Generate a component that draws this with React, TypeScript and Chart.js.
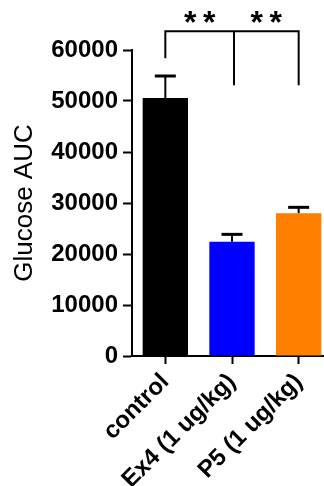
import React, { useEffect, useRef } from "react";
import { Chart, registerables } from "chart.js";

Chart.register(...registerables);

// Group labels, means and upper SEM for glucose area under the curve
const categories = ["control", "Ex4 (1 ug/kg)", "P5 (1 ug/kg)"];
const aucMeans = [50600, 22400, 28000];
const aucErrors = [4300, 1450, 1150];
const barColors = ["#000000", "#0000ff", "#ff8000"];
const yTicks = [0, 10000, 20000, 30000, 40000, 50000, 60000];

// Significance bracket levels (in AUC units) and marker text
const bracketTop = 63700;
const bracketLeftEnd = 58600;
const bracketRightEnd = 53300;
const starBaseline = 63300;
const significance = ["**", "**"];

const FONT = "'Liberation Sans', Arial, sans-serif";

const errorBarPlugin = {
  id: "errorBars",
  afterDatasetsDraw(chart: any) {
    const ctx = chart.ctx;
    const y = chart.scales.y;
    const meta = chart.getDatasetMeta(0);
    ctx.save();
    ctx.strokeStyle = "#000";
    meta.data.forEach((bar: any, i: number) => {
      const top = y.getPixelForValue(aucMeans[i] + aucErrors[i]);
      ctx.lineWidth = 2;
      ctx.beginPath();
      ctx.moveTo(bar.x, bar.y);
      ctx.lineTo(bar.x, top);
      ctx.stroke();
      ctx.lineWidth = 3;
      ctx.beginPath();
      ctx.moveTo(bar.x - 10.5, top);
      ctx.lineTo(bar.x + 10.5, top);
      ctx.stroke();
    });
    ctx.restore();
  },
};

const bracketPlugin = {
  id: "sigBracket",
  afterDraw(chart: any) {
    const ctx = chart.ctx;
    const x = chart.scales.x;
    const y = chart.scales.y;
    const x0 = x.getPixelForValue(0);
    const x1 = x.getPixelForValue(1) + 2;
    const x2 = x.getPixelForValue(2);
    const yt = y.getPixelForValue(bracketTop);
    ctx.save();
    ctx.strokeStyle = "#000";
    ctx.lineWidth = 2;
    ctx.lineCap = "square";
    ctx.beginPath();
    ctx.moveTo(x0, y.getPixelForValue(bracketLeftEnd));
    ctx.lineTo(x0, yt);
    ctx.lineTo(x2, yt);
    ctx.lineTo(x2, y.getPixelForValue(bracketRightEnd));
    ctx.moveTo(x1, yt);
    ctx.lineTo(x1, y.getPixelForValue(bracketRightEnd));
    ctx.stroke();
    ctx.fillStyle = "#000";
    ctx.font = `bold 32px ${FONT}`;
    ctx.textAlign = "center";
    ctx.textBaseline = "alphabetic";
    const sy = y.getPixelForValue(starBaseline);
    const centers = [(x0 + x1) / 2, (x1 + x2) / 2];
    centers.forEach((cx, k) => {
      const stars = significance[k].split("");
      stars.forEach((s, j) => {
        const off = (j - (stars.length - 1) / 2) * 19;
        ctx.fillText(s, cx + off, sy);
      });
    });
    ctx.restore();
  },
};

export default function App() {
  const canvasRef = useRef<HTMLCanvasElement>(null);

  useEffect(() => {
    if (!canvasRef.current) return;
    const chart = new Chart(canvasRef.current, {
      type: "bar",
      data: {
        labels: categories,
        datasets: [
          {
            data: aucMeans,
            backgroundColor: barColors,
            borderWidth: 0,
            barPercentage: 0.68,
            categoryPercentage: 1,
          },
        ],
      },
      options: {
        responsive: false,
        animation: false,
        devicePixelRatio: 1,
        layout: { padding: { top: 50, right: 8, left: 0, bottom: 0 } },
        plugins: {
          legend: { display: false },
          tooltip: { enabled: false },
        },
        scales: {
          x: {
            offset: true,
            grid: {
              display: true,
              drawOnChartArea: false,
              drawTicks: true,
              tickLength: 8,
              tickColor: "#000",
              tickWidth: 2,
              offset: false,
            },
            border: { display: true, color: "#000", width: 2 },
            ticks: {
              color: "#000",
              font: { family: FONT, size: 24, weight: "bold" },
              minRotation: 45,
              maxRotation: 45,
              padding: 4,
            },
            afterFit(scale: any) {
              scale.height = 130;
            },
          },
          y: {
            min: 0,
            max: 60000,
            afterBuildTicks(scale: any) {
              scale.ticks = yTicks.map((v) => ({ value: v }));
            },
            grid: {
              display: true,
              drawOnChartArea: false,
              drawTicks: true,
              tickLength: 9,
              tickColor: "#000",
              tickWidth: 2,
            },
            border: { display: true, color: "#000", width: 2 },
            ticks: {
              color: "#000",
              font: { family: FONT, size: 24, weight: "bold" },
              padding: 5,
              callback: (v: any) => String(v),
            },
            title: {
              display: true,
              text: "Glucose AUC",
              color: "#000",
              font: { family: FONT, size: 26, weight: "normal" },
              padding: { top: 9, bottom: 0 },
            },
            afterFit(scale: any) {
              scale.width = 132;
            },
          },
        },
      },
      plugins: [errorBarPlugin, bracketPlugin],
    });
    return () => chart.destroy();
  }, []);

  return (
    <div
      style={{
        position: "fixed",
        left: 0,
        top: 0,
        width: 324,
        height: 486,
        overflow: "hidden",
        background: "#fff",
      }}
    >
      <canvas ref={canvasRef} width={340} height={486} style={{ width: 340, height: 486, display: "block" }} />
    </div>
  );
}
